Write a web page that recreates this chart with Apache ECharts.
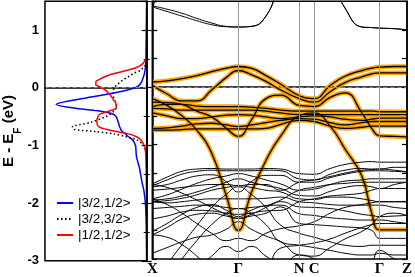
<!DOCTYPE html>
<html><head><meta charset="utf-8">
<script src="https://cdn.jsdelivr.net/npm/echarts@6/dist/echarts.min.js"></script>
<style>html,body{margin:0;padding:0;background:#fff}#c{width:415px;height:277px}</style>
</head><body><div id="c"></div>
<script>
// k-path sample points (path distance units) and high-symmetry labels
const K = [0, 15, 30, 45, 60, 75, 87, 100, 115, 130, 148.7, 163.7, 180, 195, 212, 222, 230, 245, 257.7];
const kTicks = [0, 87, 148.7, 163.7, 230, 257.7];
const kLabels = ['X', 'Γ', 'N', 'C', 'Γ', 'Z'];

// conduction bands (black)
const bandC1 = [1.42, 1.36, 1.29, 1.20, 1.12, 1.06, 1.05, 1.06, 1.24, 1.80, 2.2, 2.2, 1.9, 1.38, 1.05, 1.04, 1.03, 1.02, 1.00];
const bandC2 = [1.40, 1.32, 1.24, 1.16, 1.09, 1.055, 1.05, 1.06, 1.24, 1.80, 2.2, 2.2, 1.9, 1.38, 1.05, 1.04, 1.03, 1.02, 1.00];
const bandC3 = [1.40, 1.85, 2.3, 2.5, 2.5, 2.5, 2.5, 2.5, 2.5, 2.5, 2.5, 2.5, 2.5, 2.5, 2.5, 2.5, 2.5, 2.5, 2.5];

// highlighted (orange) bands
const bandO1 = [0.09, 0.11, 0.15, 0.20, 0.27, 0.33, 0.36, 0.33, 0.20, 0.05, -0.15, -0.20, 0.03, 0.19, 0.29, 0.33, 0.35, 0.36, 0.36];
const bandO2 = [0.03, -0.12, -0.24, -0.24, -0.05, 0.17, 0.29, 0.22, 0.10, -0.05, -0.20, -0.26, -0.08, 0.08, 0.18, 0.23, 0.25, 0.25, 0.25];
const bandO3 = [-0.26, -0.27, -0.30, -0.42, -0.52, -0.72, -0.86, -0.58, -0.20, -0.14, -0.32, -0.34, -0.18, -0.10, -0.45, -0.72, -0.85, -0.86, -0.87];
const bandV  = [-0.20, -0.32, -0.50, -0.75, -1.15, -1.90, -2.50, -1.85, -1.28, -0.85, -0.50, -0.45, -0.68, -1.08, -1.55, -2.20, -2.49, -2.49, -2.49];
const bandF1 = [-0.34, -0.30, -0.30, -0.33, -0.34, -0.34, -0.34, -0.35, -0.37, -0.40, -0.42, -0.42, -0.42, -0.42, -0.42, -0.42, -0.43, -0.43, -0.43];
const bandF2 = [-0.37, -0.38, -0.40, -0.40, -0.40, -0.40, -0.40, -0.40, -0.42, -0.45, -0.48, -0.48, -0.48, -0.48, -0.48, -0.48, -0.48, -0.48, -0.48];
const bandF3 = [-0.45, -0.50, -0.55, -0.55, -0.52, -0.49, -0.48, -0.49, -0.52, -0.55, -0.52, -0.50, -0.52, -0.56, -0.58, -0.56, -0.54, -0.54, -0.54];
const bandF4 = [-0.72, -0.71, -0.68, -0.64, -0.63, -0.66, -0.69, -0.66, -0.62, -0.58, -0.55, -0.56, -0.62, -0.66, -0.62, -0.60, -0.60, -0.60, -0.60];
const bandF5 = [-0.75, -0.75, -0.74, -0.73, -0.73, -0.73, -0.73, -0.73, -0.72, -0.65, -0.58, -0.60, -0.68, -0.72, -0.70, -0.68, -0.68, -0.68, -0.68];

// lower valence bands (black)
const bandB1  = [-1.69, -1.57, -1.47, -1.43, -1.42, -1.43, -1.43, -1.43, -1.42, -1.43, -1.51, -1.52, -1.42, -1.35, -1.31, -1.30, -1.31, -1.31, -1.31];
const bandB2  = [-1.72, -1.62, -1.52, -1.47, -1.45, -1.46, -1.46, -1.46, -1.45, -1.46, -1.60, -1.62, -1.52, -1.45, -1.42, -1.43, -1.43, -1.40, -1.40];
const bandB3  = [-1.74, -1.70, -1.62, -1.55, -1.53, -1.65, -1.83, -1.65, -1.54, -1.54, -1.66, -1.66, -1.58, -1.52, -1.47, -1.46, -1.46, -1.47, -1.48];
const bandB4  = [-1.95, -1.88, -1.78, -1.68, -1.60, -1.55, -1.51, -1.55, -1.62, -1.69, -1.80, -1.78, -1.70, -1.64, -1.62, -1.60, -1.60, -1.60, -1.60];
const bandB5  = [-1.97, -1.95, -1.90, -1.83, -1.75, -1.66, -1.60, -1.66, -1.72, -1.77, -1.89, -1.90, -1.82, -1.75, -1.72, -1.74, -1.77, -1.70, -1.66];
const bandB6  = [-2.00, -1.98, -1.94, -1.88, -1.80, -1.75, -1.72, -1.75, -1.80, -1.83, -1.95, -1.96, -1.92, -1.92, -1.95, -1.98, -2.00, -2.00, -2.00];
const bandB7  = [-2.00, -2.02, -2.00, -1.97, -1.95, -1.95, -1.95, -1.95, -1.94, -1.92, -2.00, -2.02, -2.05, -2.06, -2.06, -2.06, -2.06, -2.10, -2.12];
const bandB8  = [-2.12, -2.10, -2.08, -2.06, -2.07, -2.10, -2.12, -2.10, -2.07, -2.00, -2.09, -2.10, -2.12, -2.16, -2.22, -2.24, -2.26, -2.25, -2.24];
const bandB9  = [-2.52, -2.38, -2.22, -2.10, -2.05, -2.15, -2.26, -2.15, -2.07, -2.06, -2.21, -2.24, -2.28, -2.30, -2.32, -2.32, -2.32, -2.35, -2.38];
const bandB10 = [-2.58, -2.45, -2.30, -2.22, -2.20, -2.25, -2.29, -2.25, -2.20, -2.09, -2.38, -2.40, -2.42, -2.44, -2.46, -2.50, -2.64, -2.64, -2.64];
const bandB11 = [-3.50, -3.10, -2.75, -2.42, -2.10, -1.87, -1.74, -1.87, -2.10, -2.41, -2.55, -2.62, -2.70, -2.76, -2.78, -2.76, -2.76, -2.76, -2.76];
const bandB12 = [-3.60, -3.35, -3.00, -2.68, -2.40, -2.20, -2.12, -2.20, -2.40, -2.70, -2.76, -2.80, -2.85, -2.90, -2.93, -2.93, -2.90, -2.93, -2.93];
const bandB13 = [-3.50, -3.50, -3.40, -3.20, -2.95, -2.78, -2.87, -2.78, -2.95, -3.10, -2.93, -3.00, -3.20, -3.30, -3.40, -3.10, -2.85, -3.00, -3.10];
const bandB14 = [-1.70, -1.75, -1.85, -1.97, -2.10, -2.22, -2.29, -2.22, -2.10, -1.97, -1.80, -1.75, -1.70, -1.68, -1.66, -1.66, -1.66, -1.66, -1.66];
const bandB15 = [-1.95, -2.05, -2.20, -2.38, -2.55, -2.68, -2.64, -2.68, -2.55, -2.47, -2.42, -2.35, -2.20, -2.10, -2.05, -2.02, -2.00, -2.00, -2.00];
const bandB16 = [-2.90, -2.80, -2.70, -2.62, -2.58, -2.48, -2.35, -2.48, -2.60, -2.70, -2.93, -2.95, -2.80, -2.65, -2.52, -2.40, -2.26, -2.20, -2.24];
const bandB17 = [-2.58, -2.62, -2.75, -2.95, -3.20, -3.40, -3.50, -3.40, -3.20, -2.81, -2.76, -2.72, -2.65, -2.55, -2.45, -2.40, -2.38, -2.38, -2.38];
const bandB18 = [-2.30, -2.25, -2.18, -2.15, -2.16, -2.20, -2.22, -2.20, -2.16, -2.15, -2.00, -1.95, -1.90, -1.88, -1.85, -1.80, -1.77, -1.77, -1.77];
const bandB19 = [-1.80, -1.78, -1.75, -1.72, -1.70, -1.70, -1.72, -1.70, -1.70, -1.80, -1.66, -1.62, -1.56, -1.50, -1.45, -1.44, -1.43, -1.45, -1.48];

// projected DOS (energy grid and three orbital curves)
const dosE = [1.5, 1.0, 0.7, 0.5, 0.4, 0.35, 0.3, 0.25, 0.2, 0.15, 0.1, 0.05, 0.0, -0.1, -0.2, -0.29, -0.35, -0.4, -0.45, -0.5, -0.6, -0.68, -0.72, -0.76, -0.8, -0.85, -0.9, -1.0, -1.1, -1.2, -1.4, -1.6, -1.8, -2.0, -2.3, -2.6, -3.0];
const dosJ32m12 = [0.0, 0.002, 0.004, 0.007, 0.010, 0.013, 0.016, 0.022, 0.03, 0.04, 0.05, 0.07, 0.11, 0.35, 0.67, 0.89, 0.72, 0.48, 0.34, 0.30, 0.28, 0.265, 0.255, 0.24, 0.21, 0.18, 0.14, 0.11, 0.105, 0.10, 0.07, 0.05, 0.026, 0.013, 0.005, 0.002, 0.0];
const dosJ32m32 = [0.0, 0.0, 0.002, 0.005, 0.01, 0.035, 0.06, 0.13, 0.17, 0.22, 0.26, 0.29, 0.32, 0.33, 0.32, 0.30, 0.30, 0.32, 0.35, 0.40, 0.55, 0.73, 0.72, 0.50, 0.32, 0.20, 0.10, 0.03, 0.01, 0.005, 0.0, 0.0, 0.0, 0.0, 0.0, 0.0, 0.0];
const dosJ12m12 = [0.0, 0.002, 0.005, 0.01, 0.05, 0.10, 0.20, 0.31, 0.40, 0.46, 0.50, 0.50, 0.44, 0.37, 0.33, 0.30, 0.30, 0.36, 0.45, 0.48, 0.49, 0.47, 0.40, 0.30, 0.18, 0.10, 0.06, 0.025, 0.012, 0.008, 0.005, 0.003, 0.002, 0.001, 0.0, 0.0, 0.0];
const dosNames = ['|3/2,1/2>', '|3/2,3/2>', '|1/2,1/2>'];

const orangeBands = [bandO1, bandO2, bandO3, bandV, bandF1, bandF2, bandF3, bandF4, bandF5];
const blackBands = [bandC1, bandC2, bandC3, bandB1, bandB2, bandB3, bandB4, bandB5, bandB6, bandB7, bandB8, bandB9, bandB10,
  bandB11, bandB12, bandB13, bandB14, bandB15, bandB16, bandB17, bandB18, bandB19];

const toPts = vals => K.map((k, i) => [k, vals[i]]);
const fermiStyle = { color: '#888', type: [4, 3], width: 1.2 };

const series = [];
const dosSets = [
  { vals: dosJ32m12, color: '#0000ff', type: 'solid' },
  { vals: dosJ32m32, color: '#000000', type: [1.5, 2.5] },
  { vals: dosJ12m12, color: '#ff0000', type: 'solid' }
];
dosSets.forEach((d, j) => {
  series.push({
    type: 'line', name: dosNames[j], xAxisIndex: 0, yAxisIndex: 0,
    data: dosE.map((e, i) => [d.vals[i], e]),
    symbol: 'none', smooth: 0.3, silent: true, z: 3,
    lineStyle: { color: d.color, width: 1.5, type: d.type },
    itemStyle: { color: d.color }
  });
});
// fermi level in DOS panel
series.push({
  type: 'line', xAxisIndex: 0, yAxisIndex: 0, data: [], silent: true, z: 1,
  markLine: { silent: true, symbol: 'none', label: { show: false }, lineStyle: fermiStyle, data: [{ yAxis: 0 }] }
});
// vertical high-symmetry lines in band panel
series.push({
  type: 'line', xAxisIndex: 1, yAxisIndex: 2, data: [], silent: true, z: 1,
  markLine: {
    silent: true, symbol: 'none', label: { show: false },
    lineStyle: { color: '#999', width: 1, type: 'solid' },
    data: kTicks.slice(1, 5).map(k => ({ xAxis: k }))
  }
});
// fermi level in band panel, above the bands
series.push({
  type: 'line', xAxisIndex: 1, yAxisIndex: 2, data: [], silent: true, z: 6,
  markLine: { silent: true, symbol: 'none', label: { show: false }, lineStyle: fermiStyle, data: [{ yAxis: 0 }] }
});
orangeBands.forEach(b => series.push({
  type: 'line', xAxisIndex: 1, yAxisIndex: 2, data: toPts(b), symbol: 'none', smooth: 0.5, silent: true, z: 2,
  lineStyle: { color: '#FFA500', width: 4.5 }
}));
orangeBands.forEach(b => series.push({
  type: 'line', xAxisIndex: 1, yAxisIndex: 2, data: toPts(b), symbol: 'none', smooth: 0.5, silent: true, z: 4,
  lineStyle: { color: '#000', width: 1.3 }
}));
blackBands.forEach(b => series.push({
  type: 'line', xAxisIndex: 1, yAxisIndex: 2, data: toPts(b), symbol: 'none', smooth: 0.5, silent: true, z: 3,
  lineStyle: { color: '#000', width: 1 }
}));

const yBase = {
  min: -3, max: 1.5, type: 'value',
  axisLine: { show: true, lineStyle: { color: '#000', width: 1.5 } },
  splitLine: { show: false },
  axisLabel: { show: false }
};
const chart = echarts.init(document.getElementById('c'), null, { renderer: 'canvas' });
chart.setOption({
  animation: false,
  backgroundColor: '#fff',
  grid: [
    { left: 42.3, top: 1.2, width: 104.4, height: 259.6, show: true, borderColor: '#000', borderWidth: 1.5, z: 10, backgroundColor: 'transparent' },
    { left: 152.3, top: 1.2, width: 257.7, height: 259.6, show: true, borderColor: '#000', borderWidth: 1.5, z: 10, backgroundColor: 'transparent' }
  ],
  xAxis: [
    { gridIndex: 0, type: 'value', min: 0, max: 1, inverse: true, axisLabel: { show: false }, axisTick: { show: false },
      splitLine: { show: false }, axisLine: { show: true, lineStyle: { color: '#000', width: 1.5 } } },
    { gridIndex: 1, type: 'value', min: 0, max: 257.7, splitLine: { show: false }, axisTick: { show: false },
      axisLine: { show: true, lineStyle: { color: '#000', width: 1.5 } },
      axisLabel: {
        customValues: kTicks, showMinLabel: true, showMaxLabel: true, margin: 3,
        fontFamily: 'Liberation Serif', fontWeight: 'bold', fontSize: 15, color: '#000',
        formatter: v => { const i = kTicks.findIndex(t => Math.abs(t - v) < 1e-6); return i >= 0 ? kLabels[i] : ''; }
      } }
  ],
  yAxis: [
    Object.assign({}, yBase, {
      gridIndex: 0, position: 'left', interval: 1,
      axisTick: { show: true, inside: true, length: 5, lineStyle: { color: '#000', width: 1.2 } },
      minorTick: { show: true, splitNumber: 2, length: 3, lineStyle: { color: '#000', width: 1 } },
      axisLabel: { show: true, showMaxLabel: false, margin: 6, fontFamily: 'Liberation Sans', fontWeight: 'bold', fontSize: 13, color: '#000' },
      name: '{a|E - E}{s|F}{a| (eV)}', nameLocation: 'middle', nameRotate: 90, nameGap: 24,
      nameTextStyle: { rich: {
        a: { fontFamily: 'Liberation Sans', fontWeight: 'bold', fontSize: 15, color: '#000', lineHeight: 18 },
        s: { fontFamily: 'Liberation Sans', fontWeight: 'bold', fontSize: 10, color: '#000', verticalAlign: 'bottom', lineHeight: 18, padding: [0, 0, -6, 0] }
      } }
    }),
    Object.assign({}, yBase, {
      gridIndex: 0, position: 'right', interval: 1,
      axisTick: { show: true, inside: true, length: 5, lineStyle: { color: '#000', width: 1.2 } },
      minorTick: { show: true, splitNumber: 2, length: 3, lineStyle: { color: '#000', width: 1 } }
    }),
    Object.assign({}, yBase, {
      gridIndex: 1, position: 'left', interval: 0.5,
      axisTick: { show: true, inside: true, length: 5, lineStyle: { color: '#000', width: 1.2 } }
    }),
    Object.assign({}, yBase, {
      gridIndex: 1, position: 'right', interval: 0.5,
      axisTick: { show: true, inside: true, length: 5, lineStyle: { color: '#000', width: 1.2 } }
    })
  ],
  legend: {
    data: dosNames, orient: 'vertical', left: 56, top: 196, itemWidth: 16, itemHeight: 10, itemGap: 2,
    itemStyle: { opacity: 0 },
    textStyle: { fontFamily: 'Liberation Sans', fontSize: 13.5, color: '#000', padding: [0, 0, 0, 0] },
    selectedMode: false, padding: 0
  },
  series: series
});
</script></body></html>
